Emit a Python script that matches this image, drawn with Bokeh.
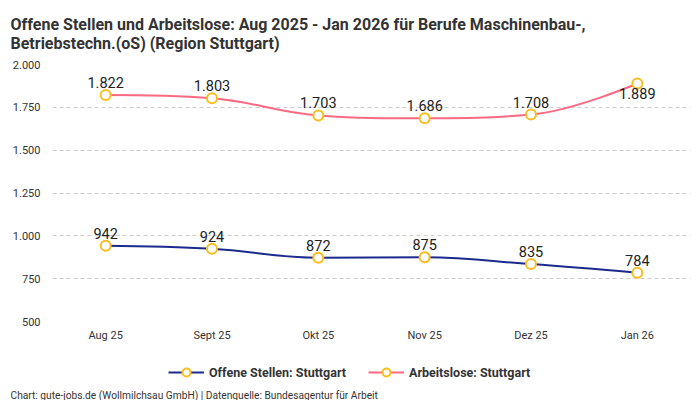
from bokeh.plotting import figure
from bokeh.layouts import column
from bokeh.models import (ColumnDataSource, FixedTicker, Legend, LegendItem, Title)
from bokeh.core.properties import value
from bokeh.embed import file_html
from bokeh.resources import INLINE

months = ["Aug 25", "Sept 25", "Okt 25", "Nov 25", "Dez 25", "Jan 26"]
offene = [942, 924, 872, 875, 835, 784]
arbeitslose = [1822, 1803, 1703, 1686, 1708, 1889]
y_ticks = [500, 750, 1000, 1250, 1500, 1750, 2000]

FONT = "Roboto"
navy = "#1b2a8c"
pink = "#fb6a82"
gold = "#fbbd1e"
ink = "#333333"


def de(v):
    return f"{v:,}".replace(",", ".")


def spline(ys, smoothing=1.5):
    # highcharts-style spline control points
    n = len(ys)
    lc = [(i, ys[i]) for i in range(n)]
    rc = [(i, ys[i]) for i in range(n)]
    d = smoothing + 1
    for i in range(1, n - 1):
        y, yl, yn = ys[i], ys[i - 1], ys[i + 1]
        lx, ly = (smoothing * i + i - 1) / d, (smoothing * y + yl) / d
        rx, ry = (smoothing * i + i + 1) / d, (smoothing * y + yn) / d
        corr = (ry - ly) * (rx - i) / (rx - lx) + y - ry
        ly += corr
        ry += corr
        if ly > yl and ly > y:
            ly = max(yl, y)
            ry = 2 * y - ly
        elif ly < yl and ly < y:
            ly = min(yl, y)
            ry = 2 * y - ly
        if ry > yn and ry > y:
            ry = max(yn, y)
            ly = 2 * y - ry
        elif ry < yn and ry < y:
            ry = min(yn, y)
            ly = 2 * y - ry
        lc[i] = (lx, ly)
        rc[i] = (rx, ry)
    return dict(x0=list(range(n - 1)), y0=ys[:-1], x1=list(range(1, n)), y1=ys[1:],
                cx0=[rc[i][0] for i in range(n - 1)], cy0=[rc[i][1] for i in range(n - 1)],
                cx1=[lc[i][0] for i in range(1, n)], cy1=[lc[i][1] for i in range(1, n)])


p = figure(width=700, height=346, x_range=(-0.5, 5.5), y_range=(500, 2000),
           output_backend="svg", toolbar_location=None, tools="",
           min_border_left=52, min_border_right=10, min_border_top=0, min_border_bottom=25)
p.outline_line_color = None

p.title.text = ("Offene Stellen und Arbeitslose: Aug 2025 - Jan 2026 für Berufe Maschinenbau-,\n"
                "Betriebstechn.(oS) (Region Stuttgart)")
p.title.text_font = FONT
p.title.text_font_size = "16px"
p.title.text_color = ink
p.title.offset = -42
p.title.standoff = 24

p.xaxis.ticker = FixedTicker(ticks=list(range(len(months))))
p.xaxis.major_label_overrides = {i: m for i, m in enumerate(months)}
p.yaxis.ticker = FixedTicker(ticks=y_ticks)
p.yaxis.major_label_overrides = {v: de(v) for v in y_ticks}
for ax in (p.xaxis, p.yaxis):
    ax.axis_line_color = None
    ax.major_tick_line_color = None
    ax.minor_tick_line_color = None
    ax.major_label_text_font = FONT
    ax.major_label_text_font_size = "11px"
    ax.major_label_text_color = ink
p.yaxis.major_label_standoff = 6
p.xaxis.major_label_standoff = 1
p.xgrid.grid_line_color = None
p.ygrid.grid_line_color = "#cccccc"
p.ygrid.grid_line_dash = "4 3"
p.ygrid.ticker = FixedTicker(ticks=y_ticks)

# legend + footer strip, same frame as the chart, 1 data unit == 1 pixel
f = figure(width=700, height=54, x_range=(0, 638), y_range=(0, 40),
           output_backend="svg", toolbar_location=None, tools="",
           x_axis_location=None, y_axis_location=None,
           min_border_left=52, min_border_right=10, min_border_top=0, min_border_bottom=0,
           outline_line_color=None)
f.grid.visible = False

items = []
for name, ys, col, below_last in [("Offene Stellen: Stuttgart", offene, navy, False),
                                  ("Arbeitslose: Stuttgart", arbeitslose, pink, True)]:
    p.bezier(source=ColumnDataSource(spline(ys)), x0="x0", y0="y0", x1="x1", y1="y1",
             cx0="cx0", cy0="cy0", cx1="cx1", cy1="cy1", line_color=col, line_width=2)
    src = ColumnDataSource(dict(x=list(range(len(ys))), y=ys))
    p.scatter("x", "y", source=src, size=10, fill_color="white", line_color=gold, line_width=2)
    n = len(ys)
    k = n - 1 if below_last else n
    up = ColumnDataSource(dict(x=list(range(k)), y=ys[:k], label=[de(v) for v in ys[:k]]))
    p.text("x", "y", text="label", source=up, text_align="center", text_baseline="bottom",
           y_offset=-7, text_font=value(FONT), text_font_size="14.5px", text_color="#222222")
    if below_last:
        dn = ColumnDataSource(dict(x=[n - 1], y=[ys[-1]], label=[de(ys[-1])]))
        p.text("x", "y", text="label", source=dn, text_align="center", text_baseline="top",
               y_offset=4, text_font=value(FONT), text_font_size="14.5px", text_color="#222222")
    nan = float("nan")
    lr = f.line(x=[nan], y=[nan], line_color=col, line_width=2)
    mr = f.scatter(x=[nan], y=[nan], size=10, fill_color="white", line_color=gold, line_width=2)
    items.append(LegendItem(label=name, renderers=[lr, mr]))

legend = Legend(items=items, orientation="horizontal", location=(116, 5),
                label_text_font=FONT, label_text_font_size="12.5px", label_text_font_style="bold",
                label_text_color=ink, border_line_color=None, background_fill_alpha=0,
                glyph_width=36, spacing=22, padding=4, margin=0)
f.add_layout(legend, "center")

foot = Title(text="Chart: gute-jobs.de (Wollmilchsau GmbH) | Datenquelle: Bundesagentur für Arbeit",
             text_font=FONT, text_font_size="10.2px", text_font_style="normal", text_color=ink,
             align="left", offset=-42, standoff=0)
f.add_layout(foot, "below")

open("out.html", "w").write(file_html(column(p, f, spacing=0), INLINE))
